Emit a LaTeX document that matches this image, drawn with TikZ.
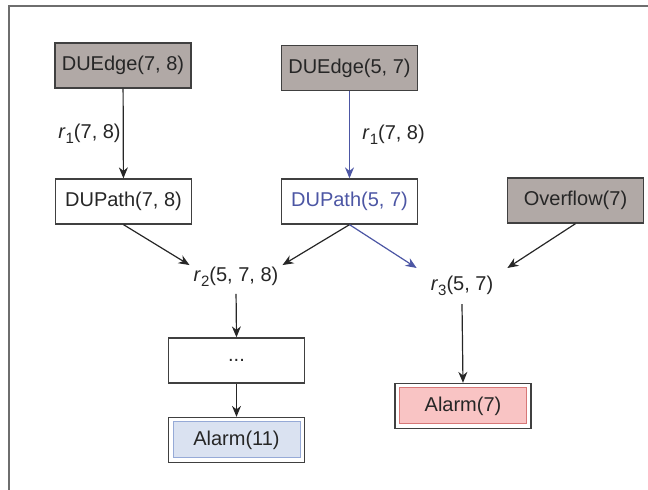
\documentclass[tikz,border=0pt]{standalone}
\usepackage{fontspec}
\setmainfont{Liberation Sans}
\usepackage{tikz}
\usetikzlibrary{positioning,arrows.meta,fit}

\definecolor{factgray}{RGB}{177,169,166}
\definecolor{pathblue}{RGB}{76,86,164}
\definecolor{alarmblue}{RGB}{218,226,241}
\definecolor{alarmblueline}{RGB}{150,170,215}
\definecolor{alarmred}{RGB}{249,196,196}
\definecolor{alarmredline}{RGB}{215,120,120}
\definecolor{framegray}{RGB}{110,110,110}

\newcommand{\rlab}[2]{\textit{r}\raisebox{-5pt}{\fontsize{15}{15}\selectfont #1}(#2)}

\begin{document}
\begin{tikzpicture}[x=10pt,y=10pt,
    font=\fontsize{20}{24}\selectfont,
    box/.style={rectangle,draw=black!75,line width=1.3pt,text=black!85,
        minimum width=136pt,minimum height=45pt,inner sep=0pt},
    factbox/.style={box,fill=factgray},
    alarmbox/.style={rectangle,line width=1pt,text=black!85,
        minimum width=127pt,minimum height=36pt,inner sep=0pt},
    alarmframe/.style={rectangle,draw=black!75,line width=1.3pt,inner sep=4pt},
    rulelab/.style={text=black!85},
    arr/.style={-{Stealth[length=11pt,width=9pt]},line width=1.2pt,black!85},
    bluearr/.style={arr,pathblue}]
    \useasboundingbox (0,0) rectangle (64.8,49);
    % Frame
    \draw[framegray,line width=1.5pt] (0.9,0) -- (0.9,48.4) -- (64.8,48.4);

    % Facts
    \node[factbox] (e78) at (12.3,42.45) {DUEdge(7, 8)};
    \node[factbox] (e57) at (34.95,42.2) {DUEdge(5, 7)};
    \node[factbox] (ovf) at (57.55,28.95) {Overflow(7)};

    % Derived paths
    \node[box] (p78) at (12.35,28.85) {DUPath(7, 8)};
    \node[box,text=pathblue] (p57) at (34.95,28.85) {DUPath(5, 7)};

    % Rules
    \node[rulelab,inner xsep=4pt,inner ysep=2pt] (r2) at (23.6,21.3) {\rlab{2}{5, 7, 8}};
    \node[rulelab,inner xsep=14pt,inner ysep=8pt] (r3) at (46.2,20.4) {\rlab{3}{5, 7}};

    % Alarms
    \node[box] (dots) at (23.65,12.95) {...};
    \node[alarmbox,fill=alarmblue,draw=alarmblueline] (a11) at (23.65,5.0) {Alarm(11)};
    \node[alarmframe,fit=(a11)] (a11f) {};
    \node[alarmbox,fill=alarmred,draw=alarmredline] (a7) at (46.3,8.4) {Alarm(7)};
    \node[alarmframe,fit=(a7)] (a7f) {};

    % Arrows
    \draw[arr] (e78) -- node[left,inner sep=2pt,text=black!85] {\rlab{1}{7, 8}} (p78);
    \draw[bluearr] (e57) -- node[right,xshift=9pt,text=black!85] {\rlab{1}{7, 8}} (p57);
    \draw[arr] (p78.south) -- (r2.north west);
    \draw[arr] (p57.south) -- (r2.north east);
    \draw[bluearr] (p57.south) -- (r3.north west);
    \draw[arr] (ovf.south) -- (r3.north east);
    \draw[arr,shorten <=5pt] (r2.south) -- (dots.north);
    \draw[arr] (dots.south) -- (a11f.north);
    \draw[arr] (r3.south) -- (a7f.north);
\end{tikzpicture}
\end{document}
